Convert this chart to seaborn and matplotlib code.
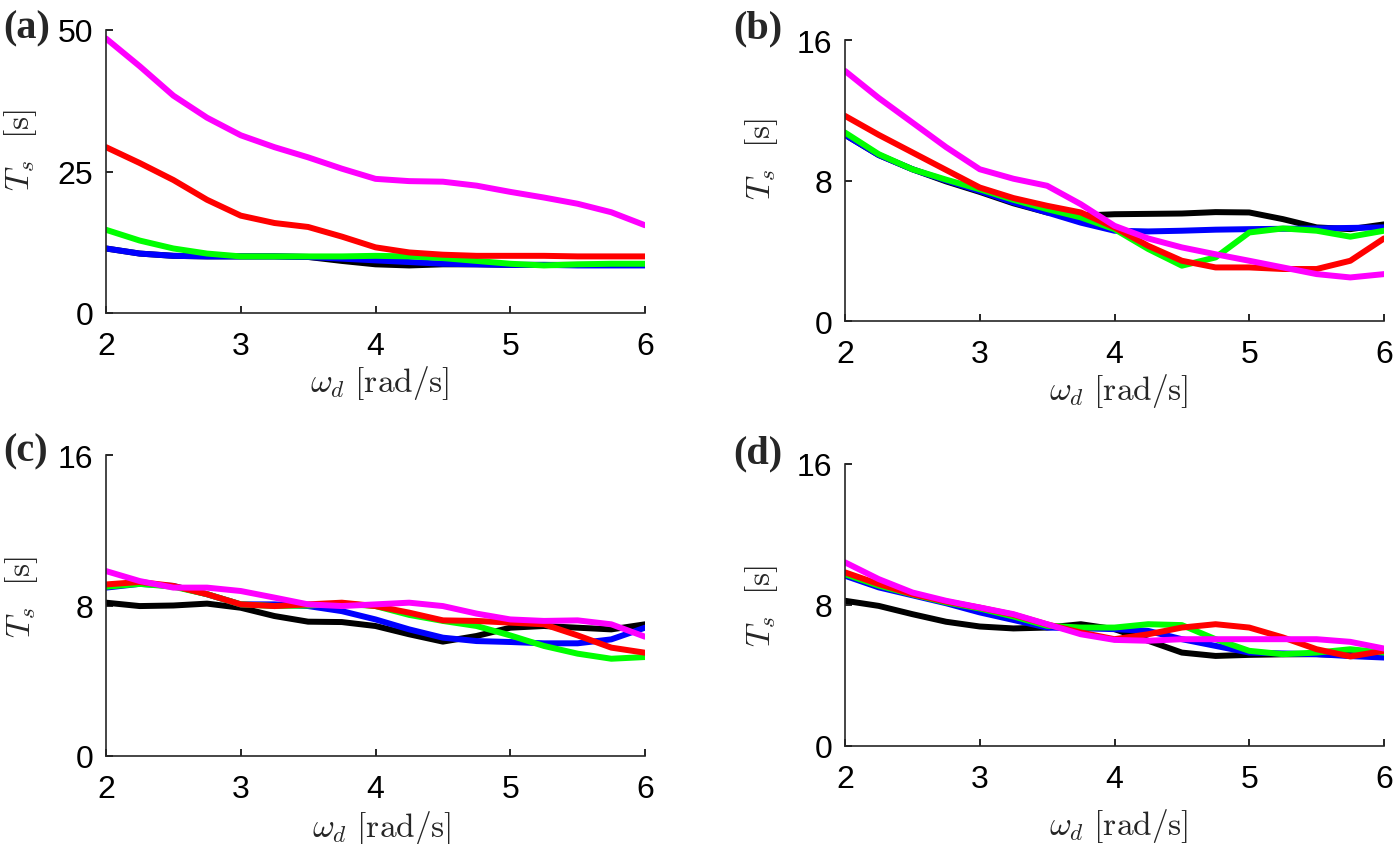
import matplotlib
matplotlib.use("Agg")
import matplotlib.pyplot as plt
import seaborn as sns
import pandas as pd

# omega_d grid [rad/s]
omega = [2.0, 2.25, 2.5, 2.75, 3.0, 3.25, 3.5, 3.75, 4.0,
         4.25, 4.5, 4.75, 5.0, 5.25, 5.5, 5.75, 6.0]

# settling time T_s [s]
a_black = [11.4, 10.5, 10.1, 10.0, 10.0, 10.0, 9.9, 9.2, 8.6, 8.4, 8.6, 8.6, 8.5, 8.5, 8.5, 8.5, 8.5]
a_blue = [11.4, 10.5, 10.1, 10.0, 10.0, 10.0, 9.9, 9.6, 9.3, 9.0, 8.7, 8.6, 8.5, 8.5, 8.4, 8.4, 8.4]
a_green = [14.7, 12.8, 11.4, 10.5, 10.0, 10.0, 10.0, 10.0, 10.1, 10.0, 9.7, 9.2, 8.7, 8.4, 8.6, 8.7, 8.7]
a_red = [29.3, 26.5, 23.5, 20.0, 17.2, 15.9, 15.2, 13.5, 11.6, 10.7, 10.3, 10.1, 10.1, 10.1, 10.0, 10.0, 10.0]
a_magenta = [48.5, 43.6, 38.4, 34.5, 31.4, 29.3, 27.5, 25.5, 23.7, 23.3, 23.2, 22.5, 21.4, 20.4, 19.3, 17.8, 15.5]

b_black = [10.6, 9.45, 8.64, 7.95, 7.35, 6.7, 6.18, 6.0, 6.08, 6.1, 6.12, 6.2, 6.18, 5.8, 5.33, 5.23, 5.5]
b_blue = [10.6, 9.45, 8.64, 8.0, 7.4, 6.75, 6.18, 5.6, 5.14, 5.1, 5.14, 5.2, 5.23, 5.25, 5.27, 5.3, 5.33]
b_green = [10.73, 9.5, 8.64, 8.05, 7.5, 6.9, 6.37, 5.9, 5.23, 4.1, 3.15, 3.62, 5.04, 5.27, 5.14, 4.8, 5.14]
b_red = [11.68, 10.6, 9.6, 8.6, 7.6, 7.0, 6.56, 6.18, 5.33, 4.28, 3.43, 3.05, 3.05, 2.96, 2.96, 3.43, 4.7]
b_magenta = [14.24, 12.7, 11.3, 9.9, 8.64, 8.1, 7.7, 6.65, 5.42, 4.7, 4.19, 3.8, 3.43, 3.05, 2.67, 2.48, 2.67]

c_black = [8.15, 7.97, 8.0, 8.1, 7.88, 7.44, 7.14, 7.12, 6.91, 6.47, 6.08, 6.38, 6.82, 6.91, 6.82, 6.73, 7.0]
c_blue = [8.95, 9.15, 9.04, 8.6, 8.06, 8.06, 7.97, 7.7, 7.26, 6.73, 6.29, 6.11, 6.06, 5.99, 5.99, 6.2, 6.82]
c_green = [9.0, 9.15, 9.0, 8.6, 8.06, 7.97, 8.0, 8.1, 7.97, 7.5, 7.18, 6.91, 6.41, 5.85, 5.44, 5.17, 5.26]
c_red = [9.12, 9.25, 9.04, 8.6, 8.06, 7.97, 8.06, 8.15, 7.97, 7.62, 7.21, 7.18, 7.09, 7.0, 6.41, 5.76, 5.49]
c_magenta = [9.83, 9.3, 8.95, 8.95, 8.77, 8.42, 8.06, 7.97, 8.06, 8.15, 7.97, 7.57, 7.26, 7.18, 7.21, 7.0, 6.34]

d_black = [8.24, 7.95, 7.48, 7.05, 6.78, 6.67, 6.72, 6.91, 6.63, 5.97, 5.3, 5.11, 5.17, 5.2, 5.21, 5.15, 5.11]
d_blue = [9.66, 9.0, 8.55, 8.1, 7.58, 7.15, 6.72, 6.68, 6.63, 6.53, 6.06, 5.68, 5.3, 5.25, 5.21, 5.1, 5.02]
d_green = [9.75, 9.1, 8.6, 8.15, 7.8, 7.35, 6.82, 6.72, 6.72, 6.91, 6.86, 6.06, 5.4, 5.21, 5.3, 5.49, 5.3]
d_red = [9.85, 9.19, 8.62, 8.2, 7.85, 7.45, 6.9, 6.44, 6.06, 6.34, 6.72, 6.91, 6.72, 6.16, 5.49, 5.08, 5.4]
d_magenta = [10.42, 9.47, 8.71, 8.24, 7.86, 7.48, 6.91, 6.34, 6.02, 5.97, 6.06, 6.06, 6.06, 6.06, 6.06, 5.91, 5.53]

cases = ["black", "blue", "green", "red", "magenta"]
colors = {"black": "#000000", "blue": "#0000ff", "green": "#00ff00",
          "red": "#ff0000", "magenta": "#ff00ff"}

panel_names = ["(a)", "(b)", "(c)", "(d)"]
panel_series = [
    [a_black, a_blue, a_green, a_red, a_magenta],
    [b_black, b_blue, b_green, b_red, b_magenta],
    [c_black, c_blue, c_green, c_red, c_magenta],
    [d_black, d_blue, d_green, d_red, d_magenta],
]
y_max = [50, 16, 16, 16]
y_ticks = [[0, 25, 50], [0, 8, 16], [0, 8, 16], [0, 8, 16]]
x_ticks = [2, 3, 4, 5, 6]

# layout in pixels: axes box (left, top, right, bottom), label spots, panel tag
W, H = 1394, 845
axes_px = [(106, 31, 645, 314), (845, 41, 1384, 322),
           (106, 456, 645, 757), (845, 465, 1384, 747)]
xlabel_px = [(380, 364), (1119, 372), (382, 809), (1119, 807)]   # center x, top y
ylabel_px = [(39, 150), (780, 159), (40, 597), (780, 606)]       # right x, center y
tag_px = [(3, 29), (733, 29), (3, 452), (733, 454)]

sns.set_style("ticks")
plt.rcParams["font.family"] = ["Liberation Sans", "DejaVu Sans"]
plt.rcParams["mathtext.fontset"] = "cm"

fig = plt.figure(figsize=(W / 100, H / 100), dpi=100)

for i in range(4):
    l, t, r, b = axes_px[i]
    ax = fig.add_axes([l / W, 1 - b / H, (r - l) / W, (b - t) / H])

    df = pd.DataFrame({
        "omega": omega * len(cases),
        "Ts": [v for s in panel_series[i] for v in s],
        "case": [c for c in cases for _ in omega],
    })
    sns.lineplot(data=df, x="omega", y="Ts", hue="case", hue_order=cases,
                 palette=colors, linewidth=4.3, legend=False, sort=False,
                 estimator=None, ax=ax, solid_joinstyle="round")

    ax.set_xlim(2, 6)
    ax.set_ylim(0, y_max[i])
    ax.set_xticks(x_ticks)
    ax.set_yticks(y_ticks[i])
    sns.despine(ax=ax)
    for sp in ["left", "bottom"]:
        ax.spines[sp].set_linewidth(1.2)
    ax.tick_params(direction="in", length=5, width=1.2, labelsize=23,
                   colors="black")
    ax.tick_params(axis="x", pad=13)
    ax.tick_params(axis="y", pad=9)

    ax.set_xlabel(r"$\omega_d\ [\mathrm{rad/s}]$", fontsize=24)
    ax.set_ylabel(r"$T_s\ \ [\mathrm{s}]$", fontsize=24)
    cx, ty = xlabel_px[i]
    ax.xaxis.set_label_coords((cx - l) / (r - l), -(ty - b) / (b - t))
    ax.xaxis.label.set_va("top")
    rx, cy = ylabel_px[i]
    ax.yaxis.set_label_coords(-(l - rx) / (r - l), (b - cy) / (b - t))

    tx, tyy = tag_px[i]
    fig.text(tx / W, 1 - tyy / H, panel_names[i], fontsize=29,
             fontweight="bold", family="Liberation Serif",
             ha="left", va="center")

fig.savefig("out.png", dpi=100)
